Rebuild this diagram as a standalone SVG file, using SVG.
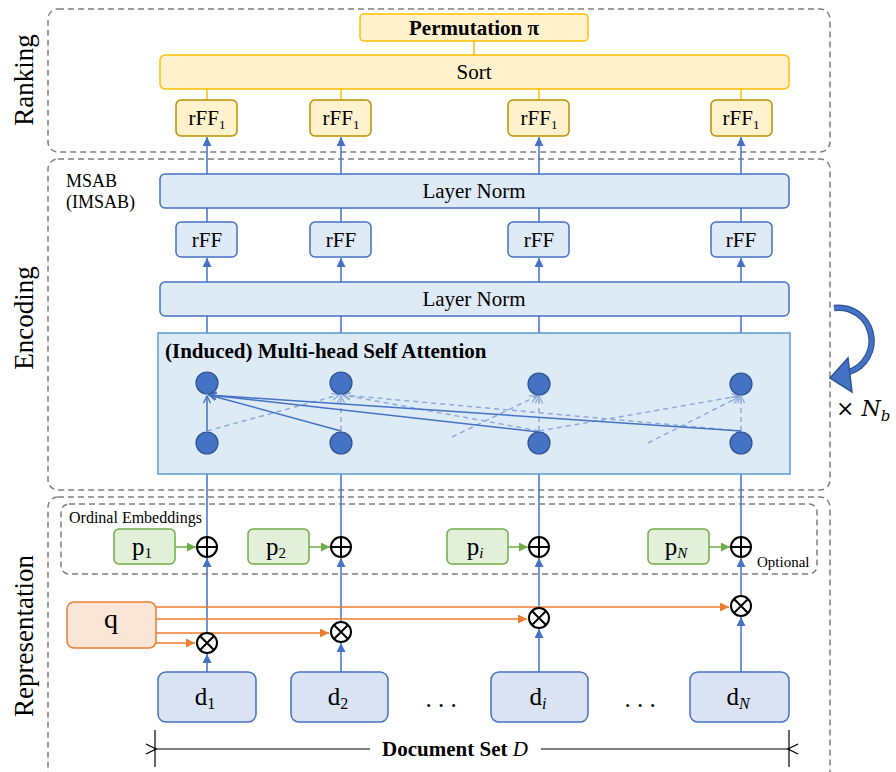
<svg xmlns="http://www.w3.org/2000/svg" width="896" height="772" viewBox="0 0 896 772" font-family="'Liberation Serif', 'Times New Roman', serif">
<style>
text{font-family:'Liberation Serif','Times New Roman',serif;fill:#000}
.sec{fill:none;stroke:#7f7f7f;stroke-width:1.5;stroke-dasharray:6,4}
.lab{font-size:27px;text-anchor:middle}
.gold{fill:#FFF2CC;stroke:#FFC000;stroke-width:1.5}
.gold2{fill:#FFF2CC;stroke:#BF9000;stroke-width:1.5}
.blue{fill:#DEEBF7;stroke:#4472C4;stroke-width:1.5}
.doc{fill:#DAE3F3;stroke:#4472C4;stroke-width:1.5}
.green{fill:#E2F0D9;stroke:#70AD47;stroke-width:1.5}
.t17{font-size:21px;text-anchor:middle}
.t22{font-size:25px;text-anchor:middle}
.bl{stroke:#4472C4;stroke-width:1.5;fill:none}
.gl{stroke:#FFC000;stroke-width:1.5;fill:none}
.dl{stroke:#8FAADC;stroke-width:1.5;stroke-dasharray:5,4;fill:none}
.ol{stroke:#ED7D31;stroke-width:1.5;fill:none}
.grl{stroke:#70AD47;stroke-width:1.5;fill:none}
.node{fill:#4472C4;stroke:#2F528F;stroke-width:1.2}
.op{fill:#fff;stroke:#000;stroke-width:2}
.nb{font-family:'DejaVu Serif','Liberation Serif',serif;font-size:22px}
</style>
<defs>
<marker id="ab" viewBox="0 0 10 10" refX="10" refY="5" markerWidth="9" markerHeight="9" markerUnits="userSpaceOnUse" orient="auto"><path d="M0,0 L10,5 L0,10 z" fill="#4472C4"/></marker>
<marker id="ao" viewBox="0 0 10 10" refX="10" refY="5" markerWidth="9" markerHeight="9" markerUnits="userSpaceOnUse" orient="auto"><path d="M0,0 L10,5 L0,10 z" fill="#ED7D31"/></marker>
<marker id="ag" viewBox="0 0 10 10" refX="10" refY="5" markerWidth="9" markerHeight="9" markerUnits="userSpaceOnUse" orient="auto"><path d="M0,0 L10,5 L0,10 z" fill="#70AD47"/></marker>
<marker id="vb" viewBox="0 0 10 10" refX="9" refY="5" markerWidth="9" markerHeight="9" markerUnits="userSpaceOnUse" orient="auto"><path d="M1,1 L9,5 L1,9" fill="none" stroke="#4472C4" stroke-width="1.5"/></marker>
<marker id="vd" viewBox="0 0 10 10" refX="9" refY="5" markerWidth="9" markerHeight="9" markerUnits="userSpaceOnUse" orient="auto"><path d="M1,1 L9,5 L1,9" fill="none" stroke="#8FAADC" stroke-width="1.5"/></marker>
<marker id="vk" viewBox="0 0 12 12" refX="1" refY="6" markerWidth="12" markerHeight="12" markerUnits="userSpaceOnUse" orient="auto-start-reverse"><path d="M11,1 L1,6 L11,11" fill="none" stroke="#000" stroke-width="1.2"/></marker>
</defs>

<g id="sections">
<rect class="sec" x="48" y="9" width="782" height="143" rx="10"/>
<rect class="sec" x="48" y="159" width="782" height="331" rx="10"/>
<rect class="sec" x="48" y="497" width="782" height="300" rx="10"/>
<text class="lab" transform="translate(33,80) rotate(-90)">Ranking</text>
<text class="lab" transform="translate(33,318) rotate(-90)">Encoding</text>
<text class="lab" transform="translate(33,636) rotate(-90)">Representation</text>
</g>

<g id="connectors">
<line class="gl" x1="474" y1="41" x2="474" y2="55"/>
<line class="gl" x1="207" y1="89" x2="207" y2="100"/>
<line class="gl" x1="341" y1="89" x2="341" y2="100"/>
<line class="gl" x1="539" y1="89" x2="539" y2="100"/>
<line class="gl" x1="741" y1="89" x2="741" y2="100"/>

<line class="bl" x1="207" y1="174" x2="207" y2="137" marker-end="url(#ab)"/>
<line class="bl" x1="341" y1="174" x2="341" y2="137" marker-end="url(#ab)"/>
<line class="bl" x1="539" y1="174" x2="539" y2="137" marker-end="url(#ab)"/>
<line class="bl" x1="741" y1="174" x2="741" y2="137" marker-end="url(#ab)"/>

<line class="bl" x1="207" y1="208" x2="207" y2="222"/>
<line class="bl" x1="341" y1="208" x2="341" y2="222"/>
<line class="bl" x1="539" y1="208" x2="539" y2="222"/>
<line class="bl" x1="741" y1="208" x2="741" y2="222"/>

<line class="bl" x1="207" y1="282" x2="207" y2="258" marker-end="url(#ab)"/>
<line class="bl" x1="341" y1="282" x2="341" y2="258" marker-end="url(#ab)"/>
<line class="bl" x1="539" y1="282" x2="539" y2="258" marker-end="url(#ab)"/>
<line class="bl" x1="741" y1="282" x2="741" y2="258" marker-end="url(#ab)"/>

<line class="bl" x1="207" y1="316" x2="207" y2="372"/>
<line class="bl" x1="341" y1="316" x2="341" y2="372"/>
<line class="bl" x1="539" y1="316" x2="539" y2="372"/>
<line class="bl" x1="741" y1="316" x2="741" y2="372"/>

<line class="bl" x1="207" y1="537" x2="207" y2="455" marker-end="url(#ab)"/>
<line class="bl" x1="341" y1="537" x2="341" y2="455" marker-end="url(#ab)"/>
<line class="bl" x1="539" y1="537" x2="539" y2="455" marker-end="url(#ab)"/>
<line class="bl" x1="741" y1="537" x2="741" y2="455" marker-end="url(#ab)"/>

<line class="bl" x1="207" y1="633" x2="207" y2="558" marker-end="url(#ab)"/>
<line class="bl" x1="341" y1="622" x2="341" y2="558" marker-end="url(#ab)"/>
<line class="bl" x1="539" y1="608" x2="539" y2="558" marker-end="url(#ab)"/>
<line class="bl" x1="741" y1="596" x2="741" y2="558" marker-end="url(#ab)"/>

<line class="bl" x1="207" y1="672" x2="207" y2="654" marker-end="url(#ab)"/>
<line class="bl" x1="341" y1="672" x2="341" y2="643" marker-end="url(#ab)"/>
<line class="bl" x1="539" y1="672" x2="539" y2="629" marker-end="url(#ab)"/>
<line class="bl" x1="741" y1="672" x2="741" y2="617" marker-end="url(#ab)"/>

<line class="grl" x1="175" y1="547" x2="196" y2="547" marker-end="url(#ag)"/>
<line class="grl" x1="309" y1="547" x2="330" y2="547" marker-end="url(#ag)"/>
<line class="grl" x1="508" y1="547" x2="528" y2="547" marker-end="url(#ag)"/>
<line class="grl" x1="709" y1="547" x2="730" y2="547" marker-end="url(#ag)"/>

<line class="ol" x1="156" y1="607" x2="729" y2="607" marker-end="url(#ao)"/>
<line class="ol" x1="156" y1="619" x2="527" y2="619" marker-end="url(#ao)"/>
<line class="ol" x1="156" y1="633" x2="329" y2="633" marker-end="url(#ao)"/>
<line class="ol" x1="156" y1="643" x2="195" y2="643" marker-end="url(#ao)"/>
</g>

<g id="attention">
<rect x="158" y="333" width="632" height="141" fill="#DDEBF7" stroke="#5B9BD5" stroke-width="1.5"/>
<text x="165" y="358" font-size="21" font-weight="bold">(Induced) Multi-head Self Attention</text>
<g id="att-lines">
<line class="dl" x1="207" y1="431" x2="339" y2="395" marker-end="url(#vd)"/>
<line class="dl" x1="341" y1="431" x2="341" y2="396" marker-end="url(#vd)"/>
<line class="dl" x1="539" y1="431" x2="343" y2="395" marker-end="url(#vd)"/>
<line class="dl" x1="741" y1="431" x2="343" y2="395" marker-end="url(#vd)"/>
<line class="dl" x1="452" y1="437" x2="537" y2="396" marker-end="url(#vd)"/>
<line class="dl" x1="539" y1="431" x2="539" y2="396" marker-end="url(#vd)"/>
<line class="dl" x1="539" y1="431" x2="739" y2="396" marker-end="url(#vd)"/>
<line class="dl" x1="648" y1="443" x2="739" y2="397" marker-end="url(#vd)"/>
<line class="dl" x1="741" y1="431" x2="741" y2="396" marker-end="url(#vd)"/>
<line class="bl" x1="207" y1="431" x2="207" y2="396" marker-end="url(#vb)"/>
<line class="bl" x1="341" y1="431" x2="209" y2="395" marker-end="url(#vb)"/>
<line class="bl" x1="539" y1="432" x2="209" y2="395" marker-end="url(#vb)"/>
<line class="bl" x1="741" y1="431" x2="209" y2="395" marker-end="url(#vb)"/>
</g>
<circle class="node" cx="207" cy="383" r="11"/>
<circle class="node" cx="341" cy="383" r="11"/>
<circle class="node" cx="539" cy="384" r="11"/>
<circle class="node" cx="741" cy="384" r="11"/>
<circle class="node" cx="207" cy="443" r="11"/>
<circle class="node" cx="341" cy="443" r="11"/>
<circle class="node" cx="539" cy="443" r="11"/>
<circle class="node" cx="741" cy="443" r="11"/>
</g>

<g id="permutation"><rect class="gold" x="360" y="14" width="228" height="27" rx="4"/><text class="t17" x="474" y="35" font-weight="bold">Permutation π</text></g>
<g id="sort"><rect class="gold" x="160" y="55" width="629" height="34" rx="5"/><text class="t17" x="474" y="79">Sort</text></g>
<g id="rff1-1"><rect class="gold2" x="176" y="100" width="61" height="36" rx="5"/><text class="t17" x="207" y="125">rFF<tspan font-size="13" dy="4">1</tspan></text></g>
<g id="rff1-2"><rect class="gold2" x="310" y="100" width="61" height="36" rx="5"/><text class="t17" x="341" y="125">rFF<tspan font-size="13" dy="4">1</tspan></text></g>
<g id="rff1-3"><rect class="gold2" x="508" y="100" width="61" height="36" rx="5"/><text class="t17" x="539" y="125">rFF<tspan font-size="13" dy="4">1</tspan></text></g>
<g id="rff1-4"><rect class="gold2" x="711" y="100" width="61" height="36" rx="5"/><text class="t17" x="741" y="125">rFF<tspan font-size="13" dy="4">1</tspan></text></g>

<g id="msab-label"><text x="66" y="187" font-size="18">MSAB</text><text x="66" y="208" font-size="18">(IMSAB)</text></g>
<g id="layernorm-top"><rect class="blue" x="160" y="174" width="629" height="34" rx="5"/><text class="t17" x="474" y="198">Layer Norm</text></g>
<g id="rff-1"><rect class="blue" x="176" y="222" width="61" height="35" rx="5"/><text class="t17" x="207" y="247">rFF</text></g>
<g id="rff-2"><rect class="blue" x="310" y="222" width="61" height="35" rx="5"/><text class="t17" x="341" y="247">rFF</text></g>
<g id="rff-3"><rect class="blue" x="508" y="222" width="61" height="35" rx="5"/><text class="t17" x="539" y="247">rFF</text></g>
<g id="rff-4"><rect class="blue" x="711" y="222" width="61" height="35" rx="5"/><text class="t17" x="741" y="247">rFF</text></g>
<g id="layernorm-bottom"><rect class="blue" x="160" y="282" width="629" height="34" rx="5"/><text class="t17" x="474" y="306">Layer Norm</text></g>

<g id="repeat">
<path d="M834,308 A33,33 0 0 1 849,372" fill="none" stroke="#2F5597" stroke-width="6.5"/>
<path d="M834,308 A33,33 0 0 1 849,372" fill="none" stroke="#4472C4" stroke-width="4"/>
<path d="M830,378 L848,358 L852,392 z" fill="#4472C4" stroke="#2F5597" stroke-width="1.5"/>
<text class="nb" x="836" y="416">× <tspan font-style="italic">N</tspan><tspan font-style="italic" font-size="15" dy="5">b</tspan></text>
</g>

<g id="ordinal">
<rect class="sec" x="61" y="504" width="756" height="70" rx="8"/>
<text x="69" y="523" font-size="16">Ordinal Embeddings</text>
<text x="757" y="567" font-size="15">Optional</text>
</g>
<g id="p1"><rect class="green" x="114" y="529" width="61" height="35" rx="5"/><text class="t22" x="142" y="555">p<tspan font-size="15" dy="3">1</tspan></text></g>
<g id="p2"><rect class="green" x="248" y="529" width="61" height="35" rx="5"/><text class="t22" x="276" y="555">p<tspan font-size="15" dy="3">2</tspan></text></g>
<g id="pi"><rect class="green" x="447" y="529" width="61" height="35" rx="5"/><text class="t22" x="475" y="555">p<tspan font-size="15" dy="3" font-style="italic">i</tspan></text></g>
<g id="pN"><rect class="green" x="648" y="529" width="61" height="35" rx="5"/><text class="t22" x="676" y="555">p<tspan font-size="15" dy="3" font-style="italic">N</tspan></text></g>

<g id="plus-1"><circle class="op" cx="207" cy="547" r="10"/><path d="M197,547 H217 M207,537 V557" stroke="#000" stroke-width="2"/></g>
<g id="plus-2"><circle class="op" cx="341" cy="547" r="10"/><path d="M331,547 H351 M341,537 V557" stroke="#000" stroke-width="2"/></g>
<g id="plus-3"><circle class="op" cx="539" cy="547" r="10"/><path d="M529,547 H549 M539,537 V557" stroke="#000" stroke-width="2"/></g>
<g id="plus-4"><circle class="op" cx="741" cy="547" r="10"/><path d="M731,547 H751 M741,537 V557" stroke="#000" stroke-width="2"/></g>

<g id="q"><rect x="67" y="602" width="89" height="46" rx="7" fill="#FBE5D6" stroke="#ED7D31" stroke-width="1.5"/><text class="t22" x="111" y="628" style="font-size:28px">q</text></g>

<g id="times-1"><circle class="op" cx="207" cy="643" r="10"/><path d="M200,636 L214,650 M214,636 L200,650" stroke="#000" stroke-width="2"/></g>
<g id="times-2"><circle class="op" cx="341" cy="632" r="10"/><path d="M334,625 L348,639 M348,625 L334,639" stroke="#000" stroke-width="2"/></g>
<g id="times-3"><circle class="op" cx="539" cy="618" r="10"/><path d="M532,611 L546,625 M546,611 L532,625" stroke="#000" stroke-width="2"/></g>
<g id="times-4"><circle class="op" cx="741" cy="606" r="10"/><path d="M734,599 L748,613 M748,599 L734,613" stroke="#000" stroke-width="2"/></g>

<g id="d1"><rect class="doc" x="158" y="672" width="98" height="50" rx="8"/><text class="t22" x="205" y="705">d<tspan font-size="16" dy="4">1</tspan></text></g>
<g id="d2"><rect class="doc" x="291" y="672" width="97" height="50" rx="8"/><text class="t22" x="338" y="705">d<tspan font-size="16" dy="4">2</tspan></text></g>
<g id="di"><rect class="doc" x="491" y="672" width="97" height="50" rx="8"/><text class="t22" x="538" y="705">d<tspan font-size="16" dy="4" font-style="italic">i</tspan></text></g>
<g id="dN"><rect class="doc" x="690" y="672" width="99" height="50" rx="8"/><text class="t22" x="738" y="705">d<tspan font-size="16" dy="4" font-style="italic">N</tspan></text></g>
<g id="dots"><text class="t22" x="441" y="707">. . .</text><text class="t22" x="640" y="707">. . .</text></g>

<g id="docset">
<line x1="155" y1="730" x2="155" y2="767" stroke="#000" stroke-width="1.2"/>
<line x1="789" y1="730" x2="789" y2="767" stroke="#000" stroke-width="1.2"/>
<line x1="156" y1="749" x2="370" y2="749" stroke="#000" stroke-width="1.2" marker-start="url(#vk)"/>
<line x1="541" y1="749" x2="788" y2="749" stroke="#000" stroke-width="1.2" marker-end="url(#vk)"/>
<text class="t17" x="455" y="756" font-weight="bold">Document Set <tspan font-style="italic" font-weight="normal">D</tspan></text>
</g>
</svg>
